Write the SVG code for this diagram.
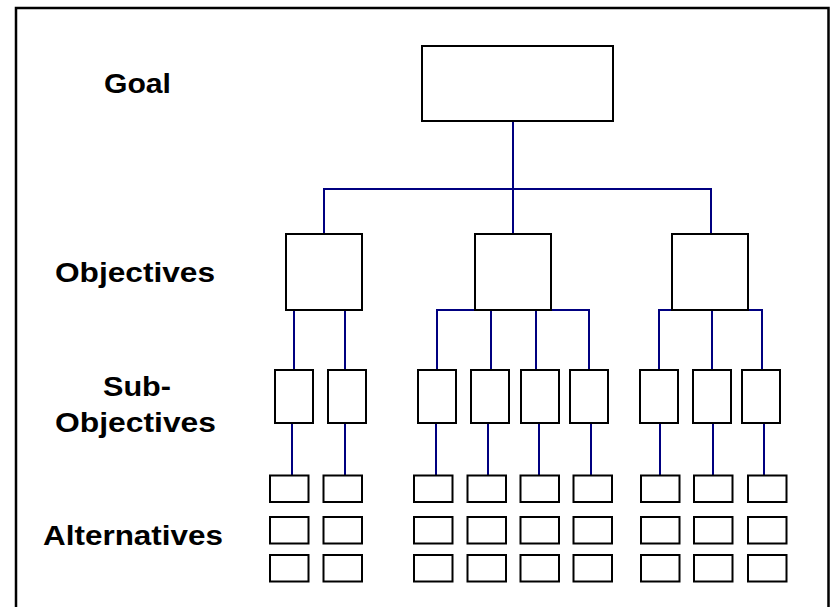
<svg xmlns="http://www.w3.org/2000/svg" width="830" height="607" viewBox="0 0 830 607">
  <style>
    .box { fill: #ffffff; stroke: #000000; stroke-width: 2; }
    .link { fill: none; stroke: #000080; stroke-width: 2; }
    .label { font-family: "Liberation Sans", Arial, sans-serif; font-weight: bold; font-size: 27px; fill: #000000; }
  </style>
  <rect width="830" height="607" fill="#ffffff"/>
  <!-- outer frame, open at the bottom -->
  <path d="M16,620 V8 H828.5 V620" fill="none" stroke="#000000" stroke-width="2.5"/>

  <!-- level labels -->
  <g id="labels">
    <text class="label" x="104" y="93" font-size="29" textLength="67" lengthAdjust="spacingAndGlyphs">Goal</text>
    <text class="label" x="55" y="282" textLength="160" lengthAdjust="spacingAndGlyphs">Objectives</text>
    <text class="label" x="103" y="396" textLength="68" lengthAdjust="spacingAndGlyphs">Sub-</text>
    <text class="label" x="55" y="432" textLength="161" lengthAdjust="spacingAndGlyphs">Objectives</text>
    <text class="label" x="43" y="545" textLength="180" lengthAdjust="spacingAndGlyphs">Alternatives</text>
  </g>

  <!-- connectors -->
  <g id="connectors" class="link">
    <path d="M513,121 V189 M324,234 V189 H711 V234 M513,189 V234"/>
    <path d="M294,310 V370 M345,310 V370"/>
    <path d="M437,370 V310 H589 V370 M491,310 V370 M536,310 V370"/>
    <path d="M659,370 V310 H762 V370 M712,310 V370"/>
    <path d="M292,423 V475 M345,423 V475 M436,423 V475 M488,423 V475 M539,423 V475 M591,423 V475 M660,423 V475 M713,423 V475 M764,423 V475"/>
  </g>

  <!-- goal -->
  <g id="goal"><rect class="box" x="422" y="46" width="191" height="75"/></g>

  <!-- objectives -->
  <g id="obj1"><rect class="box" x="286" y="234" width="76" height="76"/></g>
  <g id="obj2"><rect class="box" x="475" y="234" width="76" height="76"/></g>
  <g id="obj3"><rect class="box" x="672" y="234" width="76" height="76"/></g>

  <!-- sub-objectives -->
  <g id="sub1"><rect class="box" x="275" y="370" width="38" height="53"/></g>
  <g id="sub2"><rect class="box" x="328" y="370" width="38" height="53"/></g>
  <g id="sub3"><rect class="box" x="418" y="370" width="38" height="53"/></g>
  <g id="sub4"><rect class="box" x="471" y="370" width="38" height="53"/></g>
  <g id="sub5"><rect class="box" x="521" y="370" width="38" height="53"/></g>
  <g id="sub6"><rect class="box" x="570" y="370" width="38" height="53"/></g>
  <g id="sub7"><rect class="box" x="640" y="370" width="38" height="53"/></g>
  <g id="sub8"><rect class="box" x="693" y="370" width="38" height="53"/></g>
  <g id="sub9"><rect class="box" x="742" y="370" width="38" height="53"/></g>

  <!-- alternatives: three per sub-objective column -->
  <defs>
    <g id="altcol">
      <rect class="box" x="0" y="475.5" width="38.5" height="26.5"/>
      <rect class="box" x="0" y="517" width="38.5" height="26.5"/>
      <rect class="box" x="0" y="555" width="38.5" height="26.5"/>
    </g>
  </defs>
  <g id="alt1"><use href="#altcol" x="270"/></g>
  <g id="alt2"><use href="#altcol" x="323.5"/></g>
  <g id="alt3"><use href="#altcol" x="414"/></g>
  <g id="alt4"><use href="#altcol" x="467.5"/></g>
  <g id="alt5"><use href="#altcol" x="520.5"/></g>
  <g id="alt6"><use href="#altcol" x="573.5"/></g>
  <g id="alt7"><use href="#altcol" x="641"/></g>
  <g id="alt8"><use href="#altcol" x="694"/></g>
  <g id="alt9"><use href="#altcol" x="748"/></g>
</svg>
